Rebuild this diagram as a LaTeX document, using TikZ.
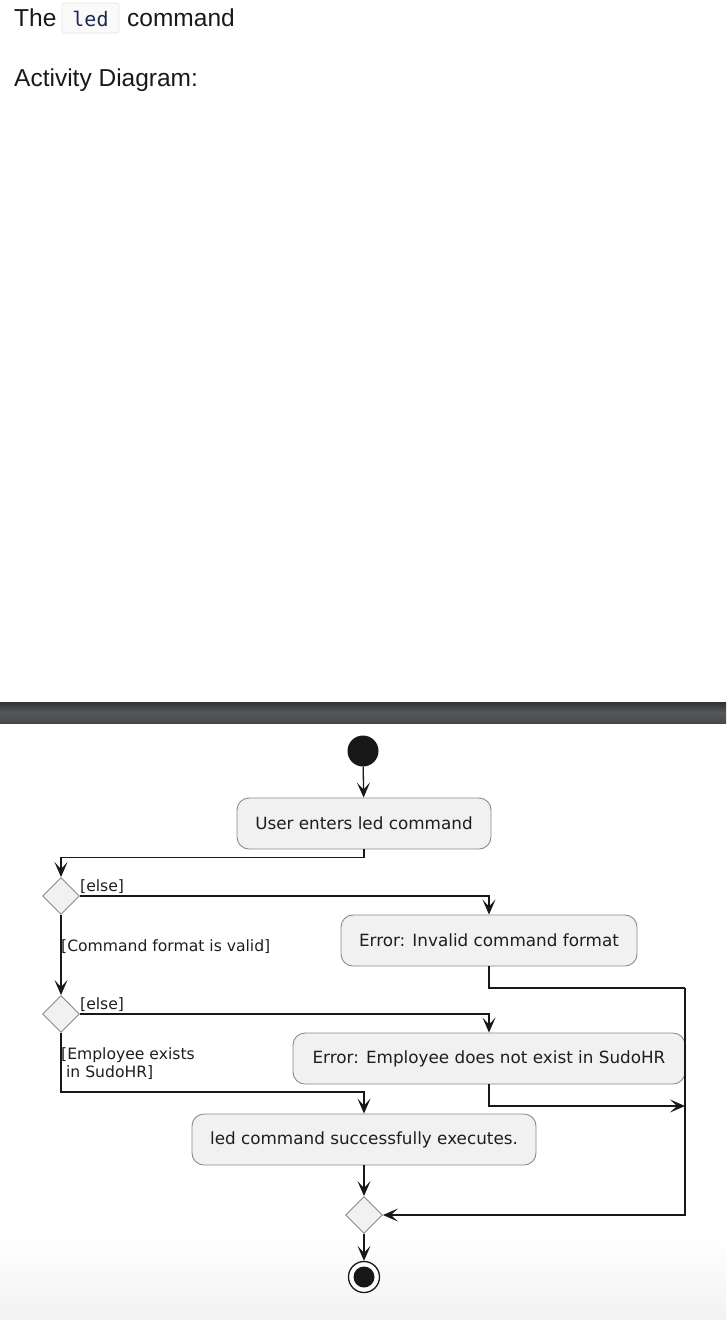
\documentclass[tikz,border=0pt]{standalone}
\usepackage{fontspec}
\setmainfont{Liberation Sans}
\newfontfamily\diafont{DejaVu Sans}
\newfontfamily\codefont{DejaVu Sans Mono}
\usetikzlibrary{shapes.geometric,arrows.meta}
\definecolor{boxfill}{HTML}{F1F1F1}
\definecolor{boxline}{HTML}{8A8A8A}
\definecolor{lineblack}{HTML}{181818}
\definecolor{txt}{HTML}{1E1E1E}
\definecolor{codeblue}{HTML}{1C2A52}
\definecolor{bartop}{HTML}{2F3133}
\definecolor{barmid}{HTML}{55585B}
\definecolor{barbot}{HTML}{46494C}
\tikzset{
  act/.style={draw=boxline, fill=boxfill, rounded corners=12pt, line width=0.9pt,
    minimum height=51pt, inner sep=0pt, font=\diafont\fontsize{16.8}{20}\selectfont, text=txt},
  dec/.style={diamond, draw=boxline, fill=boxfill, line width=0.9pt, minimum size=37pt, inner sep=0pt, aspect=1},
  arr/.style={draw=lineblack, line width=1.3pt, -{Stealth[length=15pt, width=13pt, inset=7pt]}},
  ln/.style={draw=lineblack, line width=1.3pt},
  guard/.style={font=\diafont\fontsize{15.6}{18.5}\selectfont, text=txt, inner sep=0pt},
}
\begin{document}
\begin{tikzpicture}[x=1pt,y=-1pt]
\useasboundingbox (0,0) rectangle (726,1320);
% bottom fade
\shade[top color=white, bottom color=black!5] (0,1235) rectangle (726,1320);
% header
\node[anchor=base west, inner sep=0pt, font=\fontsize{24.5}{28}\selectfont, text=black!90] (the) at (14,26) {The};
\draw[draw=black!10, fill=black!2, rounded corners=3pt, line width=0.8pt] (62,3) rectangle (119,33);
\node[anchor=base, inner sep=0pt, font=\codefont\fontsize{20}{24}\selectfont, text=codeblue] (led) at (90.5,26) {led};
\node[anchor=base west, inner sep=0pt, font=\fontsize{24.5}{28}\selectfont, text=black!90] (cmd) at (127,26) {command};
\node[anchor=base west, inner sep=0pt, font=\fontsize{24.5}{28}\selectfont, text=black!90] (ad) at (14,86) {Activity Diagram:};
% dark bar
\shade[top color=bartop, bottom color=barbot, middle color=barmid] (0,702) rectangle (726,723);
% diagram nodes
\node[circle, fill=lineblack, minimum size=31pt, inner sep=0pt] (start) at (363,751) {};
\node[act, minimum width=254pt] (b1) at (364,823.5) {User enters led command};
\node[dec] (d1) at (61,896) {};
\node[act, minimum width=296pt] (b2) at (489,940.5) {Error: Invalid command format};
\node[dec] (d2) at (61,1014) {};
\node[act, minimum width=392pt] (b3) at (489,1058.5) {Error: Employee does not exist in SudoHR};
\node[act, minimum width=344pt] (b4) at (364,1139.5) {led command successfully executes.};
\node[dec] (d3) at (364,1215) {};
\node[circle, draw=lineblack, line width=1.3pt, fill=white, minimum size=31pt, inner sep=0pt] (end) at (364,1277) {};
\node[circle, fill=lineblack, minimum size=21pt, inner sep=0pt] (endin) at (end.center) {};
\coordinate (rc) at (685,988);
\coordinate (j) at (685,1106);
% guards
\node[guard, anchor=south west] (g1) at (80,894) {[else]};
\node[guard, anchor=west] (g2) at (61,947) {[Command format is valid]};
\node[guard, anchor=south west] (g3) at (80,1012) {[else]};
\node[guard, anchor=north west, align=left] (g4) at (61,1047) {[Employee exists\\\ in SudoHR]};
% connectors
\draw[arr] (start) -- (b1);
\draw[arr] (b1.south) -- ++(0,8) -| (d1.north);
\draw[arr] (d1.east) -| (b2.north);
\draw[arr] (d1.south) -- (d2.north);
\draw[arr] (d2.east) -| (b3.north);
\draw[arr] (d2.south) -- ++(0,59) -| (b4.north);
\draw[arr] (b4) -- (d3);
\draw[arr] (d3) -- (end);
\draw[ln] (b2.south) |- (rc);
\draw[arr] (rc) |- (d3.east);
\draw[arr] (b3.south) |- (j);
\end{tikzpicture}
\end{document}
